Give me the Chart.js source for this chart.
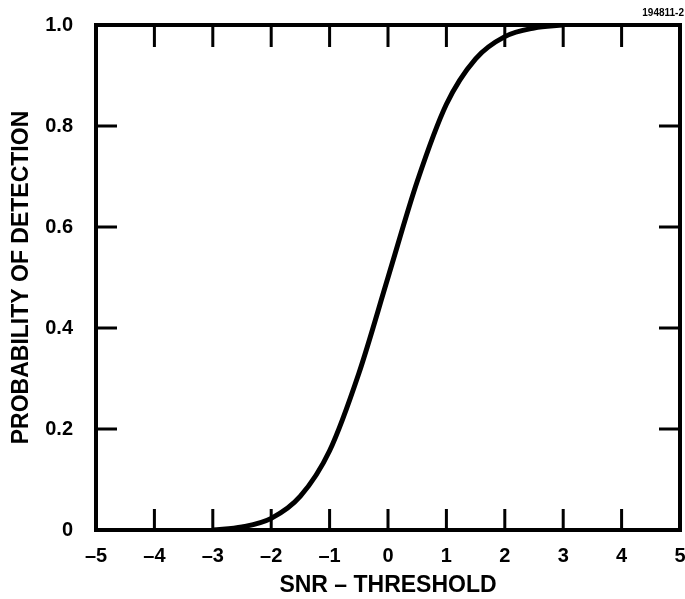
<!DOCTYPE html>
<html>
<head>
<meta charset="utf-8">
<script src="https://cdn.jsdelivr.net/npm/chart.js@4/dist/chart.umd.min.js"></script>
<style>
  html, body { margin: 0; padding: 0; background: #fff; }
  #wrap { width: 685px; height: 599px; }
</style>
</head>
<body>
<div id="wrap"><canvas id="c"></canvas></div>
<script>
// values
const snr = [-3, -2.5, -2, -1.5, -1, -0.5, 0, 0.5, 1, 1.5, 2, 2.5, 3];
const pd  = [0.0, 0.006, 0.023, 0.067, 0.157, 0.31, 0.5, 0.69, 0.843, 0.933, 0.977, 0.994, 1.0];
const xTicks = [-5, -4, -3, -2, -1, 0, 1, 2, 3, 4, 5];
const yTicks = [0, 0.2, 0.4, 0.6, 0.8, 1.0];
const figId = '194811-2';

var points = [];
for (var i = 0; i < snr.length; i++) {
  points.push({x: snr[i], y: pd[i]});
}

const FONT = '"Liberation Sans", Arial, sans-serif';

// frame and inward ticks on all four sides
const frameTicks = {
  id: 'frameTicks',
  afterDatasetsDraw: function (chart) {
    const ctx = chart.ctx;
    const a = chart.chartArea;
    const xs = chart.scales.x, ys = chart.scales.y;
    ctx.save();
    ctx.strokeStyle = '#000';
    ctx.lineWidth = 3;
    ctx.lineCap = 'butt';
    ctx.beginPath();
    for (var i = 1; i < xTicks.length - 1; i++) {
      var px = xs.getPixelForValue(xTicks[i]);
      ctx.moveTo(px, a.bottom); ctx.lineTo(px, a.bottom - 21);
      ctx.moveTo(px, a.top); ctx.lineTo(px, a.top + 22);
    }
    for (var j = 1; j < yTicks.length - 1; j++) {
      var py = ys.getPixelForValue(yTicks[j]);
      ctx.moveTo(a.left, py); ctx.lineTo(a.left + 21, py);
      ctx.moveTo(a.right, py); ctx.lineTo(a.right - 21, py);
    }
    ctx.stroke();
    ctx.lineWidth = 4;
    ctx.strokeRect(a.left, a.top, a.right - a.left, a.bottom - a.top);
    ctx.fillStyle = '#000';
    ctx.font = 'bold 10px ' + FONT;
    ctx.textAlign = 'right';
    ctx.textBaseline = 'middle';
    ctx.fillText(figId, 684, 13);
    ctx.restore();
  }
};

new Chart(document.getElementById('c'), {
  type: 'line',
  data: {
    datasets: [{
      data: points,
      borderColor: '#000',
      borderWidth: 5,
      pointRadius: 0,
      fill: false,
      cubicInterpolationMode: 'monotone'
    }]
  },
  options: {
    responsive: true,
    maintainAspectRatio: false,
    animation: false,
    layout: { padding: { top: 25, right: 5, left: 0, bottom: 0 } },
    plugins: { legend: { display: false }, tooltip: { enabled: false } },
    scales: {
      x: {
        type: 'linear',
        min: -5, max: 5,
        afterBuildTicks: function (s) { s.ticks = xTicks.map(function (v) { return {value: v}; }); },
        afterFit: function (s) { s.height = 69; s.paddingLeft = 0; s.paddingRight = 0; },
        grid: { display: false },
        border: { display: false },
        ticks: {
          color: '#000',
          padding: 6,
          maxRotation: 0,
          font: { family: FONT, size: 20, weight: 'bold' },
          callback: function (v) { return v < 0 ? '\u2013' + Math.abs(v) : String(v); }
        },
        title: {
          display: true,
          text: 'SNR \u2013 THRESHOLD',
          color: '#000',
          padding: { top: 0, bottom: 0 },
          font: { family: FONT, size: 23, weight: 'bold' }
        }
      },
      y: {
        min: 0, max: 1,
        afterBuildTicks: function (s) { s.ticks = yTicks.map(function (v) { return {value: v}; }); },
        afterFit: function (s) { s.width = 96; s.paddingTop = 0; s.paddingBottom = 0; },
        grid: { display: false },
        border: { display: false },
        ticks: {
          color: '#000',
          padding: 15,
          font: { family: FONT, size: 20, weight: 'bold' },
          callback: function (v) { return v === 0 ? '0' : v.toFixed(1); }
        },
        title: {
          display: true,
          text: 'PROBABILITY OF DETECTION',
          color: '#000',
          padding: { top: 8, bottom: 0 },
          font: { family: FONT, size: 23, weight: 'bold' }
        }
      }
    }
  },
  plugins: [frameTicks]
});
</script>
</body>
</html>
